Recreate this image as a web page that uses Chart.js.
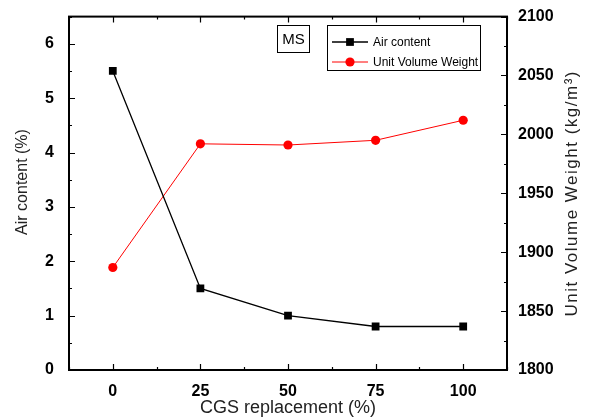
<!DOCTYPE html>
<html>
<head>
<meta charset="utf-8">
<script src="https://cdn.jsdelivr.net/npm/chart.js@4.4.1/dist/chart.umd.min.js"></script>
<style>
  html, body { margin: 0; padding: 0; background: #fff; }
  #wrap { width: 590px; height: 418px; }
</style>
</head>
<body>
<div id="wrap"><canvas id="chart" width="590" height="418"></canvas></div>
<script>
// CGS replacement levels (%) and measured values
const replacement = [0, 25, 50, 75, 100];
const airContent = [5.5, 1.5, 1.0, 0.8, 0.8];
const unitWeight = [1887, 1992, 1991, 1995, 2012];

// axis tick labels
const xTicks = [0, 25, 50, 75, 100];
const airTicks = [0, 1, 2, 3, 4, 5, 6];
const weightTicks = [1800, 1850, 1900, 1950, 2000, 2050, 2100];

const tickFont = { family: 'Liberation Sans, Arial, sans-serif', size: 16, weight: 'bold' };
const titleFamily = 'Liberation Sans, Arial, sans-serif';

function toPoints(ys) {
  return replacement.map((x, i) => ({ x: x, y: ys[i] }));
}

function fixedTicks(values) {
  return function (scale) {
    scale.ticks = values.map(v => ({ value: v }));
  };
}

// inward major/minor ticks, frame, axis titles
const frameTicks = {
  id: 'frameTicks',
  afterDraw(chart) {
    const { ctx, chartArea: a, scales } = chart;
    const sx = scales.x, sl = scales.y, sr = scales.y1;
    const major = 6, minor = 3;
    ctx.save();
    ctx.strokeStyle = '#000';
    ctx.lineWidth = 1.2;
    ctx.beginPath();
    // bottom and top
    for (let v = -12.5; v <= 112.5; v += 12.5) {
      const px = Math.round(sx.getPixelForValue(v)) + 0.5;
      const len = v % 25 === 0 ? major : minor;
      ctx.moveTo(px, a.bottom); ctx.lineTo(px, a.bottom - len);
      ctx.moveTo(px, a.top); ctx.lineTo(px, a.top + len);
    }
    // left axis
    for (let v = 0; v <= 6.5; v += 0.5) {
      const py = Math.round(sl.getPixelForValue(v)) + 0.5;
      const len = v % 1 === 0 ? major : minor;
      ctx.moveTo(a.left, py); ctx.lineTo(a.left + len, py);
    }
    // right axis
    for (let v = 1800; v <= 2100; v += 25) {
      const py = Math.round(sr.getPixelForValue(v)) + 0.5;
      const len = v % 50 === 0 ? major : minor;
      ctx.moveTo(a.right, py); ctx.lineTo(a.right - len, py);
    }
    ctx.stroke();
    ctx.lineWidth = 2;
    ctx.strokeRect(a.left, a.top, a.right - a.left, a.bottom - a.top);

    // axis titles
    ctx.fillStyle = '#222';
    ctx.textAlign = 'center';
    ctx.textBaseline = 'alphabetic';
    ctx.font = '18px ' + titleFamily;
    ctx.fillText('CGS replacement (%)', (a.left + a.right) / 2, 413);

    ctx.save();
    ctx.translate(27, 182);
    ctx.rotate(-Math.PI / 2);
    ctx.font = '16px ' + titleFamily;
    ctx.fillText('Air content (%)', 0, 0);
    ctx.restore();

    ctx.save();
    ctx.translate(577, (a.top + a.bottom) / 2);
    ctx.rotate(-Math.PI / 2);
    ctx.font = '17px ' + titleFamily;
    ctx.letterSpacing = '1.5px';
    ctx.fillText('Unit Volume Weight (kg/m\u00B3)', 0, 0);
    ctx.restore();

    // sample label box and legend
    ctx.lineWidth = 1;
    ctx.strokeRect(277.5, 25.5, 32, 27);
    ctx.fillStyle = '#000';
    ctx.font = '15px ' + titleFamily;
    ctx.textBaseline = 'middle';
    ctx.fillText('MS', 293.5, 39.5);

    ctx.strokeRect(327.5, 25.5, 153, 45);
    ctx.textAlign = 'left';
    ctx.font = '12px ' + titleFamily;
    chart.data.datasets.forEach((ds, i) => {
      const y = 42 + i * 20;
      ctx.strokeStyle = ds.borderColor;
      ctx.lineWidth = ds.borderWidth;
      ctx.beginPath();
      ctx.moveTo(332, y); ctx.lineTo(368, y);
      ctx.stroke();
      ctx.fillStyle = ds.pointBackgroundColor;
      Chart.helpers.drawPoint(ctx, {
        pointStyle: ds.pointStyle, radius: ds.pointRadius, rotation: 0, borderWidth: 0
      }, 350, y);
      ctx.fillStyle = '#000';
      ctx.fillText(ds.label, 373, y + 1);
    });
    ctx.restore();
  }
};

new Chart(document.getElementById('chart'), {
  type: 'line',
  data: {
    datasets: [
      {
        label: 'Air content',
        data: toPoints(airContent),
        yAxisID: 'y',
        borderColor: '#000',
        borderWidth: 1.3,
        pointStyle: 'rect',
        pointRadius: 5.5,
        pointBackgroundColor: '#000',
        pointBorderColor: '#000',
        pointBorderWidth: 0
      },
      {
        label: 'Unit Volume Weight',
        data: toPoints(unitWeight),
        yAxisID: 'y1',
        borderColor: '#ff0000',
        borderWidth: 1,
        pointStyle: 'circle',
        pointRadius: 4.6,
        pointBackgroundColor: '#ff0000',
        pointBorderColor: '#ff0000',
        pointBorderWidth: 0
      }
    ]
  },
  options: {
    responsive: false,
    animation: false,
    layout: { padding: { top: 15, left: 0, right: 0, bottom: 0 } },
    plugins: { legend: { display: false }, tooltip: { enabled: false } },
    scales: {
      x: {
        type: 'linear',
        min: -12.5,
        max: 112.5,
        afterBuildTicks: fixedTicks(xTicks),
        afterFit: s => { s.height = 48; },
        grid: { display: false },
        border: { display: false },
        ticks: { color: '#000', font: tickFont, padding: 4, autoSkip: false, maxRotation: 0,
                 callback: v => String(v) }
      },
      y: {
        position: 'left',
        min: 0,
        max: 6.5,
        afterBuildTicks: fixedTicks(airTicks),
        afterFit: s => { s.width = 69; },
        grid: { display: false },
        border: { display: false },
        ticks: { color: '#000', font: tickFont, padding: 7, callback: v => String(v) }
      },
      y1: {
        position: 'right',
        min: 1800,
        max: 2100,
        afterBuildTicks: fixedTicks(weightTicks),
        afterFit: s => { s.width = 83; },
        grid: { display: false },
        border: { display: false },
        ticks: { color: '#000', font: tickFont, padding: 3, callback: v => String(v) }
      }
    }
  },
  plugins: [frameTicks]
});
</script>
</body>
</html>
